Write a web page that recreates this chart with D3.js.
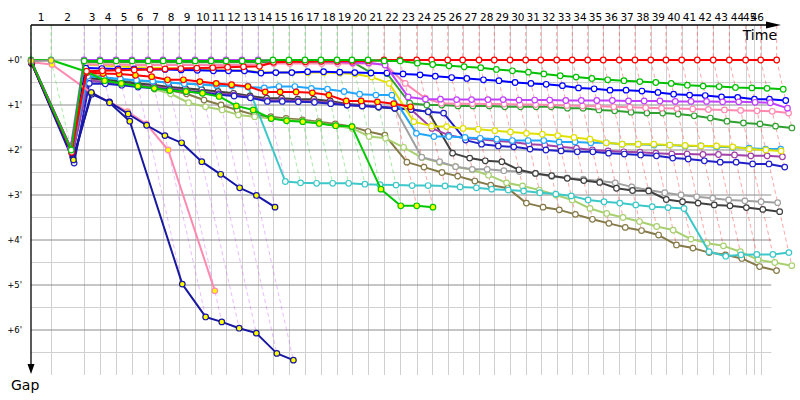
<!DOCTYPE html>
<html>
<head>
<meta charset="utf-8">
<title>Gap chart</title>
<script src="https://d3js.org/d3.v7.min.js"></script>
<style>
  body { margin: 0; background: #fff; font-family: "DejaVu Sans", sans-serif; }
  .lapLabel { font-size: 10.5px; text-anchor: middle; fill: #000; }
  .gapLabel { font-size: 8.5px; text-anchor: end; dominant-baseline: middle; fill: #000; }
  .axisTitle { font-size: 14px; fill: #000; }
</style>
</head>
<body>
<svg id="chart" width="800" height="400"></svg>
<script>
const n = null;

// leader crossing time of each lap line, minutes from the start
const lapTimes = [0.00, 1.98, 5.25, 6.83, 8.42, 10.00, 11.58, 13.07, 14.65, 16.24, 17.82, 19.31,
  20.89, 22.48, 23.96, 25.54, 27.13, 28.71, 30.30, 31.78, 33.37, 34.95, 36.53, 38.19,
  39.67, 41.26, 42.74, 44.36, 45.87, 47.43, 48.98, 50.47, 52.05, 53.59, 55.12, 56.66,
  58.25, 59.80, 61.36, 62.87, 64.43, 65.97, 67.55, 69.14, 70.76, 71.58, 72.25, 73.83];
const lapLabels = [1, 2, 3, 4, 5, 6, 7, 8, 9, 10, 11, 12, 13, 14, 15, 16, 17, 18, 19, 20, 21, 22, 23,
  24, 25, 26, 27, 28, 29, 30, 31, 32, 33, 34, 35, 36, 37, 38, 39, 40, 41, 42, 43, 44, 45, 46];
const gapTicks = [0, 1, 2, 3, 4, 5, 6];
const gapLabels = ["+0'", "+1'", "+2'", "+3'", "+4'", "+5'", "+6'"];

// gap to the leader (minutes), one value per lap line
const violet = [.02, 1.95, 0, 0, 0, 0, 0, 0, 0, 0, 0, 0,
  0, 0, .02, .02, .03, .03, .04, .06, .06, .11, .82, .87,
  .87, .88, .88, .88, .88, .89, .89, .89, .9, .9, .9, .9,
  .91, .91, .91, .92, .92, .92, .93, .93, .94, n, .95, 1.07];
const green = [.03, 2.0, .02, .02, .02, .02, .02, .02, .02, .02, .02, .02,
  .02, .02, 0, 0, 0, 0, 0, 0, 0, .02, .02, .07,
  .1, .13, .15, .17, .21, .24, .27, .31, .35, .38, .41, .44,
  .46, .48, .5, .52, .56, .58, .59, .61, .62, n, .63, .65];
const red = [.05, 2.05, .25, .24, .23, .22, .21, .2, .19, .18, .17, .16,
  .15, .14, .05, .04, .04, .03, .03, .03, .02, 0, 0, 0,
  0, 0, 0, 0, 0, 0, 0, 0, 0, 0, 0, 0,
  0, 0, 0, 0, 0, 0, 0, 0, 0, n, 0, 0];
const pink = [.05, 2.0, .1, .1, .1, .11, .11, .11, .11, .11, .11, .11,
  .11, .1, .08, .08, .08, .08, .08, .08, .08, .1, .52, .85,
  .96, .97, .97, .98, .98, .99, .99, 1.0, 1.01, 1.02, 1.03, 1.04,
  1.05, 1.06, 1.07, 1.08, 1.09, 1.1, 1.11, 1.12, 1.13, n, 1.14, 1.18];
const darkgreen = [.04, 2.02, .05, .05, .05, .05, .05, .05, .05, .05, .05, .05,
  .05, .05, .05, .05, .05, .05, .05, .04, .28, .3, .96, 1.0,
  1.0, 1.02, 1.02, 1.02, 1.04, 1.04, 1.04, 1.04, 1.07, 1.07, 1.11, 1.13,
  1.16, 1.18, 1.18, 1.2, 1.24, 1.29, 1.36, 1.4, 1.42, n, 1.47, 1.51];
const blue = [.03, 2.0, .18, .19, .2, .2, .21, .21, .22, .23, .24, .24,
  .24, .29, .28, .28, .26, .26, .27, .28, .29, .29, .31, .33,
  .36, .39, .41, .44, .46, .5, .52, .54, .57, .62, .64, .67,
  .67, .69, .72, .76, .78, .79, .82, .83, .87, n, .87, .9];
const yellow = [.04, 2.0, .1, .12, .14, .16, .17, .18, .19, .2, .22, .23,
  .24, .27, .28, .28, .28, .28, .29, .31, .38, .52, 1.37, 1.47,
  1.48, 1.52, 1.54, 1.57, 1.6, 1.63, 1.65, 1.68, 1.72, 1.76, 1.84, 1.87,
  1.87, 1.87, 1.89, 1.9, 1.91, 1.91, 1.93, 1.98, 2.0, n, 2.02];
const lightblue = [.05, 2.05, .36, .39, .42, .45, .47, .5, .53, .54, .56, .57,
  .6, .62, .59, .59, .63, .65, .7, .76, .78, .78, 1.63, 1.7,
  1.7, 1.72, 1.74, 1.76, 1.79, 1.79, 1.79, 1.82, 1.82, 1.84, 1.84, 1.87,
  1.87, 1.89, 1.89, 1.91, 1.91, 1.93, 1.94, 1.96, 1.98, n, 1.98];
const purple = [.06, 2.1, .45, .5, .53, .57, .6, .64, .68, .72, .75, .78,
  .83, .9, .9, .91, .92, .95, 1.0, 1.02, 1.04, 1.06, 1.1, 1.52,
  1.67, 1.74, 1.76, 1.8, 1.82, 1.87, 1.89, 1.93, 1.96, 2.0, 2.02, 2.04,
  2.05, 2.07, 2.09, 2.09, 2.1, 2.1, 2.11, 2.13, 2.13, n, 2.15];
const darkblue = [.08, 2.29, .52, .53, .56, .6, .63, .66, .7, .73, .77, .8,
  .84, .92, .92, .93, .94, .97, 1.0, 1.02, 1.04, 1.07, 1.1, 1.15,
  1.18, 1.78, 1.87, 1.91, 1.93, 1.98, 2.0, 2.02, 2.04, 2.04, 2.07, 2.09,
  2.11, 2.13, 2.18, 2.2, 2.24, 2.27, 2.27, 2.31, 2.31, n, 2.38];
const black = [.07, 2.12, .4, .44, .48, .52, .55, .6, .63, .66, .7, .74,
  .8, .85, .85, .87, .87, .91, .98, 1.0, 1.05, 1.08, 1.1, 1.15,
  2.07, 2.18, 2.24, 2.26, 2.44, 2.52, 2.57, 2.63, 2.68, 2.72, 2.85, 2.9,
  2.91, 3.1, 3.15, 3.18, 3.22, 3.24, 3.28, 3.32, 3.37];
const gray = [.05, 2.1, .42, .46, .5, .54, .57, .62, .65, .68, .72, .76,
  .82, .88, .88, .9, .9, .94, 1.0, 1.02, 1.04, 1.07, 2.16, 2.26,
  2.37, 2.43, 2.43, 2.46, 2.48, 2.52, 2.59, 2.62, 2.65, 2.69, 2.73, 2.82,
  2.89, 2.95, 3.0, 3.04, 3.07, 3.11, 3.13, 3.15, 3.17];
const cyan = [.06, 2.06, .38, .4, .43, .46, .48, .5, .52, .55, .57, .58,
  .58, 2.7, 2.73, 2.74, 2.74, 2.74, 2.76, 2.77, 2.78, 2.79, 2.79, 2.8,
  2.82, 2.84, 2.87, 2.89, 2.91, 2.95, 2.98, 3.02, 3.11, 3.15, 3.18, 3.22,
  3.26, 3.28, 3.3, 4.26, 4.36, 4.33, 4.32, 4.32, 4.28];
const lightgreen = [.07, 2.08, .3, .4, .47, .55, .65, .75, .95, 1.04, 1.11, 1.22,
  1.26, 1.3, 1.33, 1.36, 1.4, 1.46, 1.52, 1.7, 1.74, 1.94, 2.17, 2.28,
  2.37, 2.44, 2.56, 2.73, 2.8, 2.89, 3.0, 3.11, 3.3, 3.41, 3.5, 3.59,
  3.7, 3.78, 3.98, 4.07, 4.13, 4.26, 4.44, 4.5, 4.57];
const olive = [.08, 2.1, .3, .38, .45, .52, .6, .67, .75, .89, 1.0, 1.11,
  1.22, 1.26, 1.3, 1.33, 1.37, 1.42, 1.48, 1.59, 1.67, 2.27, 2.38, 2.5,
  2.58, 2.69, 2.78, 2.85, 3.18, 3.27, 3.33, 3.43, 3.54, 3.63, 3.72, 3.79,
  3.89, 4.11, 4.18, 4.28, 4.33, 4.41, 4.59, 4.68];
// retired cars
const green2 = [0, 0, .26, .46, .52, .58, .63, .68, .7, .74, .81, 1.02,
  1.11, 1.3, 1.35, 1.37, 1.41, 1.46, 1.48, 2.87, 3.24, 3.24, 3.27];
const red2 = [.05, 1.94, .28, .3, .31, .34, .37, .44, .44, .48, .52, .55,
  .59, .71, .71, .71, .73, .78, .91, .91, .93, .97, 1.04];
const navyA = [.06, 2.18, .76, .93, 1.2, 1.45, 1.68, 1.84, 2.26, 2.54, 2.84, 3.01, 3.27];
const navyB = [.07, 2.22, .72, .95, 1.36, 4.98, 5.71, 5.82, 5.96, 6.07, 6.52, 6.67];
const pink2 = [.05, .1, .73, .93, 1.15, 1.42, 2.0, 5.13];
const gray2 = [.02, .01];

const gridEnd = 73.3;

const colors = {
  olive: '#857a48', lightgreen: '#a8d070', cyan: '#3cc8c8', gray: '#a0a0a0', black: '#404040',
  purple: '#a040a8', darkblue: '#2020c8', lightblue: '#22a6ff', yellow: '#e0e000',
  darkgreen: '#30a030', pink: '#ff88b0', blue: '#0000ff', red2: '#ff0000', green2: '#00c800',
  pink2: '#ff8ab0', navyA: '#1414a8', navyB: '#1818a0', gray2: '#909090',
  violet: '#c040ff', red: '#ff0000', green: '#00c000'
};
const retired = ['green2', 'red2', 'navyA', 'navyB', 'pink2', 'gray2'];

// draw order: first is at the bottom
const series = [
  ['olive', olive], ['lightgreen', lightgreen], ['cyan', cyan], ['gray', gray], ['black', black],
  ['purple', purple], ['darkblue', darkblue], ['lightblue', lightblue], ['yellow', yellow],
  ['darkgreen', darkgreen], ['pink', pink], ['blue', blue], ['red2', red2], ['green2', green2],
  ['pink2', pink2], ['navyA', navyA], ['navyB', navyB], ['violet', violet], ['red', red],
  ['green', green], ['gray2', gray2]
].map(([name, gaps]) => ({
  name,
  points: gaps.map((g, i) => ({ lap: i, g })).filter(d => d.g !== null)
}));

const svg = d3.select('#chart');
const x = d3.scaleLinear().domain([0, 74.26]).range([31, 781]);
const y = d3.scaleLinear().domain([0, 7]).range([60, 375]);
const yTop = 25;

// grid
const grid = svg.append('g');
grid.selectAll('line.minor')
  .data(d3.range(0.5, 7, 1))
  .join('line')
  .attr('x1', x(0)).attr('x2', x(gridEnd))
  .attr('y1', d => y(d)).attr('y2', d => y(d))
  .attr('stroke', '#d0d0d0');
grid.selectAll('line.vert')
  .data(lapTimes.slice(1, lapLabels.length + 1))
  .join('line')
  .attr('x1', d => Math.round(x(d)) + 0.5).attr('x2', d => Math.round(x(d)) + 0.5)
  .attr('y1', yTop).attr('y2', y(7))
  .attr('stroke', '#d0d0d0');
grid.selectAll('line.major')
  .data(gapTicks)
  .join('line')
  .attr('x1', x(0)).attr('x2', x(gridEnd))
  .attr('y1', d => y(d)).attr('y2', d => y(d))
  .attr('stroke', '#8c8c8c');

// lap lines (dashed), coloured by the leader of that lap
const lapLines = lapTimes.map((t, i) => {
  const vals = series.map(s => ({ name: s.name, p: s.points.find(d => d.lap === i) })).filter(d => d.p);
  if (!vals.length) return null;
  const lead = vals.reduce((a, b) => (b.p.g < a.p.g ? b : a));
  const maxG = d3.max(vals, d => d.p.g);
  return { t, lead: lead.name, g0: lead.p.g, g1: maxG };
}).filter(d => d);

svg.append('g').selectAll('path')
  .data(lapLines)
  .join('path')
  .attr('d', d => `M${x(d.t)},${yTop}L${x(d.t + d.g0)},${y(d.g0)}L${x(d.t + d.g1)},${y(d.g1)}`)
  .attr('fill', 'none')
  .attr('stroke', d => colors[d.lead])
  .attr('stroke-opacity', 0.35)
  .attr('stroke-dasharray', '4,3');

// series
const line = d3.line()
  .x(d => x(lapTimes[d.lap] + d.g))
  .y(d => y(d.g));

const sg = svg.append('g').selectAll('g')
  .data(series)
  .join('g');

sg.append('path')
  .attr('d', d => line(d.points))
  .attr('fill', 'none')
  .attr('stroke', d => colors[d.name])
  .attr('stroke-width', 2)
  .attr('stroke-linejoin', 'round');

sg.selectAll('circle')
  .data(d => d.points.map(p => ({ ...p, name: d.name })))
  .join('circle')
  .attr('cx', d => x(lapTimes[d.lap] + d.g))
  .attr('cy', d => y(d.g))
  .attr('r', 2.8)
  .attr('fill', d => retired.includes(d.name) ? '#ffff00' : '#fff')
  .attr('stroke', d => colors[d.name])
  .attr('stroke-width', 1.2);

// axes
svg.append('path')
  .attr('d', `M${x(0)},${yTop}H${x(74.26) - 14}`)
  .attr('stroke', '#000').attr('stroke-width', 1.3);
svg.append('path')
  .attr('d', `M${x(74.26) - 15},${yTop - 3.5}L${x(74.26)},${yTop}L${x(74.26) - 15},${yTop + 3.5}Z`)
  .attr('fill', '#000');
svg.append('path')
  .attr('d', `M${x(0)},${yTop}V366`)
  .attr('stroke', '#000').attr('stroke-width', 1.3);
svg.append('path')
  .attr('d', `M${x(0) - 3.5},364L${x(0)},374L${x(0) + 3.5},364Z`)
  .attr('fill', '#000');

svg.append('g').selectAll('text')
  .data(lapLabels)
  .join('text')
  .attr('class', 'lapLabel')
  .attr('x', (d, i) => (x(lapTimes[i]) + x(lapTimes[i + 1])) / 2)
  .attr('y', 21)
  .text(d => d);

svg.append('g').selectAll('text')
  .data(gapTicks)
  .join('text')
  .attr('class', 'gapLabel')
  .attr('x', 22)
  .attr('y', d => y(d))
  .text((d, i) => gapLabels[i]);

svg.append('text').attr('class', 'axisTitle')
  .attr('x', 777).attr('y', 40).attr('text-anchor', 'end').text('Time');
svg.append('text').attr('class', 'axisTitle')
  .attr('x', 11).attr('y', 390).text('Gap');
</script>
</body>
</html>
